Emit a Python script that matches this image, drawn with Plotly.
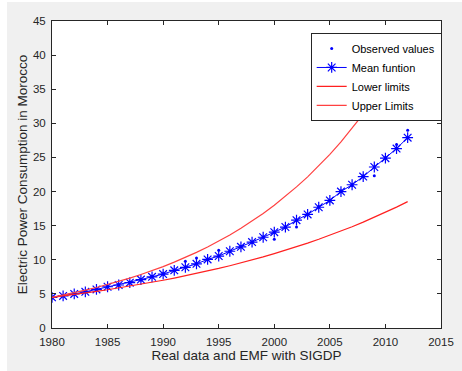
import plotly.graph_objects as go

years = list(range(1980, 2013))
observed = [4.4, 4.75, 4.95, 5.4, 5.6, 6.0, 6.35, 6.7, 7.05, 7.55, 7.95, 8.4, 9.8, 10.25,
            10.1, 11.4, 11.2, 11.95, 12.55, 13.35, 13.0, 14.7, 14.8, 16.6, 17.8, 18.6,
            20.1, 20.9, 22.3, 22.3, 25.0, 26.9, 29.0]
mean_fn = [4.5, 4.7, 5.0, 5.3, 5.65, 6.05, 6.3, 6.65, 7.1, 7.5, 7.9, 8.45, 8.9, 9.4,
           10.05, 10.55, 11.25, 11.9, 12.6, 13.3, 14.05, 14.8, 15.8, 16.65, 17.7, 18.7,
           20.0, 21.0, 22.2, 23.6, 24.9, 26.3, 27.9]
lower = [4.50, 4.70, 4.92, 5.14, 5.37, 5.61, 5.87, 6.13, 6.41, 6.70, 7.00, 7.32, 7.65,
         7.99, 8.36, 8.73, 9.13, 9.54, 9.97, 10.42, 10.90, 11.39, 11.90, 12.44, 13.00,
         13.59, 14.20, 14.85, 15.52, 16.22, 16.95, 17.72, 18.52]
upper = [4.50, 4.82, 5.17, 5.54, 5.94, 6.36, 6.82, 7.31, 7.84, 8.40, 9.00, 9.65, 10.34,
         11.08, 11.88, 12.73, 13.64, 14.62, 15.67, 16.79, 18.00, 19.29, 20.68, 22.16,
         23.75, 25.45, 27.28, 29.24, 31.34, 33.59, 36.00, 38.58, 41.35]
x_ticks = [1980, 1985, 1990, 1995, 2000, 2005, 2010, 2015]
y_ticks = [0, 5, 10, 15, 20, 25, 30, 35, 40, 45]

FONT = "Liberation Sans, Arial, sans-serif"
AXC = "#262626"

fig = go.Figure()
fig.add_trace(go.Scatter(x=years, y=observed, mode="markers", name="Observed values",
                         marker=dict(color="#0000ff", size=3)))
fig.add_trace(go.Scatter(x=years, y=mean_fn, mode="lines+markers", name="Mean funtion",
                         line=dict(color="#0000ff", width=1),
                         marker=dict(symbol="asterisk-open", size=9, color="#0000ff",
                                     line=dict(color="#0000ff", width=1.2))))
fig.add_trace(go.Scatter(x=years, y=lower, mode="lines", name="Lower limits",
                         line=dict(color="#ff2020", width=1.2)))
fig.add_trace(go.Scatter(x=years, y=upper, mode="lines", name="Upper Limits",
                         line=dict(color="#ff4040", width=1.2)))

axis_common = dict(showgrid=False, zeroline=False, showline=True, linecolor=AXC,
                   linewidth=1, mirror="ticks", ticks="inside", ticklen=4,
                   tickcolor=AXC, automargin=False,
                   tickfont=dict(family=FONT, size=11.5, color=AXC))

fig.update_xaxes(range=[1980, 2015], tickvals=x_ticks, ticklabelstandoff=3,
                 title=dict(text="Real data and EMF with SIGDP",
                            font=dict(family=FONT, size=13.5, color=AXC), standoff=2),
                 **axis_common)
fig.update_yaxes(range=[0, 45], tickvals=y_ticks, ticklabelstandoff=3,
                 title=dict(text="Electric Power Consumption in Morocco",
                            font=dict(family=FONT, size=13.5, color=AXC), standoff=2),
                 **axis_common)

fig.update_layout(
    width=462, height=371,
    margin=dict(l=52, r=21, t=21, b=43),
    paper_bgcolor="#ffffff", plot_bgcolor="#ffffff",
    font=dict(family=FONT, color=AXC),
    showlegend=True,
    legend=dict(x=0.665, y=0.961, xanchor="left", yanchor="top",
                bgcolor="#ffffff", bordercolor=AXC, borderwidth=1,
                font=dict(family=FONT, size=11, color="#000000"),
                tracegroupgap=0, itemwidth=30),
    shapes=[
        dict(type="rect", xref="paper", yref="paper", x0=-0.1157, x1=1.06,
             y0=-0.15, y1=1.062, fillcolor="#f0f0f0", line=dict(width=0), layer="below"),
        dict(type="rect", xref="paper", yref="paper", x0=0, x1=1, y0=0, y1=1,
             fillcolor="#ffffff", line=dict(width=0), layer="below"),
    ],
)

fig.write_html(
    "out.html",
    config={"displayModeBar": False},
    post_script="document.body.style.margin='0';document.body.style.overflow='hidden';",
)
